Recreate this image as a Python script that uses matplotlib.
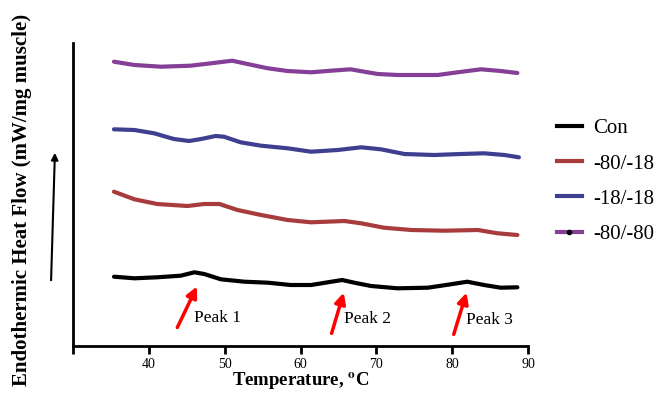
import numpy as np
import matplotlib
matplotlib.use('Agg')
import matplotlib.pyplot as plt
from matplotlib.lines import Line2D

plt.rcParams['font.family'] = ['Liberation Serif', 'DejaVu Serif']
plt.rcParams['mathtext.fontset'] = 'stix'

# DSC curves (temperature in C, arbitrary heat-flow units)
con_t = [35.4, 38.1, 41.1, 44.2, 46.0, 47.3, 49.5, 52.6, 55.7, 58.7, 61.4, 63.6, 65.5, 67.1,
         69.3, 72.8, 76.8, 79.8, 82.0, 84.2, 86.4, 88.6]
con_y = [69.3, 67.7, 68.7, 70.3, 73.7, 72.0, 66.7, 64.3, 63.3, 61.0, 61.0, 63.7, 66.0, 63.3,
         60.0, 57.7, 58.3, 61.7, 64.3, 61.0, 58.3, 58.7]

r8018_t = [35.4, 38.1, 41.1, 45.1, 47.3, 49.3, 51.7, 54.8, 58.3, 61.4, 65.8, 68.0, 71.0, 74.6,
           79.0, 83.4, 86.0, 88.6]
r8018_y = [154.3, 146.7, 142.0, 140.0, 142.0, 142.0, 136.0, 131.0, 126.0, 123.7, 125.0, 122.7,
           118.3, 116.0, 115.3, 116.0, 112.7, 111.0]

r1818_t = [35.4, 38.1, 40.7, 43.3, 45.3, 46.9, 48.8, 49.9, 52.1, 54.8, 58.3, 61.4, 64.9, 68.0,
           70.6, 73.7, 77.6, 81.2, 84.2, 86.9, 88.8]
r1818_y = [216.7, 216.0, 212.7, 207.0, 205.0, 207.0, 210.0, 209.3, 203.7, 200.3, 197.7, 194.3,
           196.0, 198.7, 196.7, 192.0, 191.0, 192.0, 192.7, 191.0, 188.7]

r8080_t = [35.4, 38.1, 41.6, 45.5, 48.2, 51.0, 53.0, 55.7, 58.3, 61.4, 64.0, 66.6, 68.4, 70.2,
           72.8, 78.1, 80.7, 83.8, 86.4, 88.6]
r8080_y = [284.3, 281.0, 279.3, 280.3, 282.7, 285.3, 282.0, 277.7, 275.0, 273.7, 275.3, 276.7,
           274.3, 272.0, 271.0, 271.0, 273.7, 276.7, 275.0, 273.0]

labels = ['Con', '-80/-18', '-18/-18', '-80/-80']
colors = ['black', '#a83c3c', '#3f3f92', '#853f96']

# peak arrows: tail and head points, and label positions
peak_names = ['Peak 1', 'Peak 2', 'Peak 3']
peak_tail = [(43.6, 16), (64.0, 10), (80.1, 9)]
peak_head = [(46.5, 62), (65.8, 56), (82.0, 56)]
peak_text = [(45.9, 28), (65.7, 27), (81.8, 26)]

fig = plt.figure(figsize=(6.68, 3.94), dpi=100)
ax = fig.add_axes([73/668, 1-346/394, (528-73)/668, (346-43)/394])

series = [(con_t, con_y), (r8018_t, r8018_y), (r1818_t, r1818_y), (r8080_t, r8080_y)]
handles = []
for (t, y), c, lab in zip(series, colors, labels):
    ax.plot(t, y, color=c, lw=3, solid_capstyle='round', solid_joinstyle='round')
    handles.append(Line2D([], [], color=c, lw=3))
# the -80/-80 legend key has a small black dot in the middle
handles[3] = Line2D([], [], color=colors[3], lw=3, marker='o', ms=3,
                    mfc='black', mec='black')

for name, tail, head, txt in zip(peak_names, peak_tail, peak_head, peak_text):
    ax.annotate('', xy=head, xytext=tail,
                arrowprops=dict(arrowstyle='-|>', color='red', lw=2.5, mutation_scale=16))
    ax.text(txt[0], txt[1], name, fontsize=12.5, va='center', ha='left')

ax.set_xlim(30, 90)
ax.set_ylim(0, 303)
ax.set_xticks([30, 40, 50, 60, 70, 80, 90])
ax.set_xticklabels(['', '40', '50', '60', '70', '80', '90'], fontsize=10)
ax.set_yticks([])
ax.tick_params(axis='x', direction='out', length=6, width=2, pad=3)
for s in ['top', 'right']:
    ax.spines[s].set_visible(False)
for s in ['left', 'bottom']:
    ax.spines[s].set_linewidth(2)
ax.set_xlabel(r'Temperature, $^{\mathbf{o}}$C', fontsize=13.5, fontweight='bold', labelpad=-0.5)

fig.text(22/668, 1-200/394, 'Endothermic Heat Flow (mW/mg muscle)', rotation=90,
         fontsize=15, fontweight='bold', ha='center', va='center')
ax.annotate('', xy=(55, 394-150), xytext=(51, 394-283), xycoords='figure pixels',
            textcoords='figure pixels',
            arrowprops=dict(arrowstyle='-|>', color='black', lw=1.5, mutation_scale=10))

leg = fig.legend(handles=handles, labels=labels, loc='upper left',
                 bbox_to_anchor=(538/668, 1-100/394), numpoints=1,
                 frameon=False, fontsize=15, handlelength=1.2, labelspacing=0.75,
                 handletextpad=0.55)
plt.savefig('out.png', dpi=100)
